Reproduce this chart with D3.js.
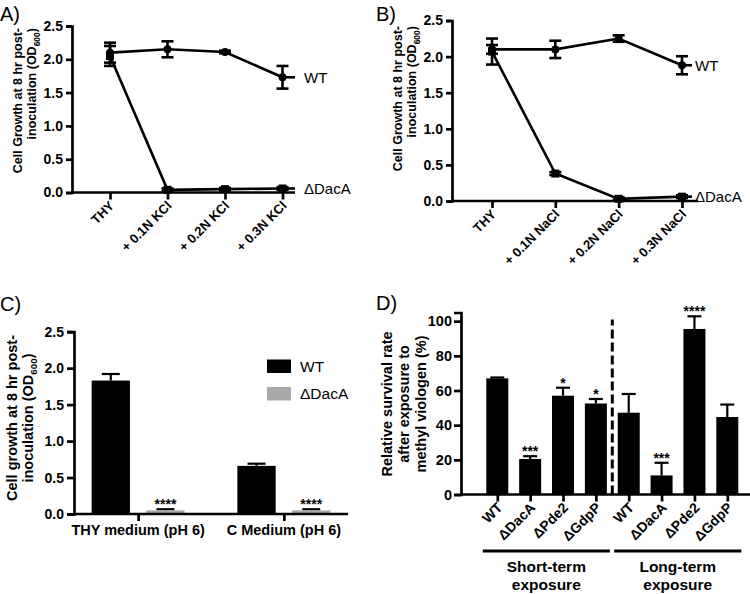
<!DOCTYPE html>
<html><head><meta charset="utf-8">
<script src="https://cdn.jsdelivr.net/npm/d3@7"></script>
<style>
body{margin:0;background:#fff}
svg{display:block}
text{font-family:"Liberation Sans",Arial,Helvetica,sans-serif;fill:#000}
</style>
</head><body>
<svg id="c" width="750" height="594"></svg>
<script>
// ---------- DATA ----------
// Panel A (KCl)
const catsA = ["THY", "+ 0.1N KCl", "+ 0.2N KCl", "+ 0.3N KCl"];
const wtA = [2.10, 2.15, 2.11, 1.73];
const wtAErr = [0.15, 0.12, 0.02, 0.17];
const dacaA = [2.05, 0.04, 0.05, 0.06];
const dacaAErr = [0.15, 0.02, 0.02, 0.02];
// Panel B (NaCl)
const catsB = ["THY", "+ 0.1N NaCl", "+ 0.2N NaCl", "+ 0.3N NaCl"];
const wtB = [2.10, 2.10, 2.25, 1.88];
const wtBErr = [0.06, 0.12, 0.045, 0.125];
const dacaB = [2.07, 0.38, 0.03, 0.06];
const dacaBErr = [0.18, 0.02, 0.02, 0.02];
const lineYTicks = [0, 0.5, 1.0, 1.5, 2.0, 2.5];
// Panel C (pH 6)
const groupsC = ["THY medium (pH 6)", "C Medium (pH 6)"];
const seriesC = ["WT", "ΔDacA"];
const wtC = [1.83, 0.66];
const wtCErr = [0.09, 0.03];
const dacaC = [0.05, 0.05];
const dacaCErr = [0.015, 0.015];
const sigC = ["****", "****"];
// Panel D (methyl viologen)
const strainsD = ["WT", "ΔDacA", "ΔPde2", "ΔGdpP"];
const exposuresD = ["Short-term", "Long-term"];
const shortD = [67.0, 20.5, 57.0, 52.5];
const shortDErr = [0.5, 1.6, 4.6, 2.6];
const sigShortD = ["", "***", "*", "*"];
const longD = [47.2, 11.0, 95.5, 44.7];
const longDErr = [10.8, 7.3, 7.3, 7.2];
const sigLongD = ["", "***", "****", ""];
const dYTicks = [0, 20, 40, 60, 80, 100];

// ---------- DRAW ----------
const svg = d3.select("#c");
const AX = 2.7; // axis stroke width

function styleAxis(sel, fs) {
  sel.selectAll("path.domain").attr("stroke", "#000").attr("stroke-width", AX);
  sel.selectAll(".tick line").attr("stroke", "#000").attr("stroke-width", AX);
  sel.selectAll(".tick text").attr("font-size", fs).attr("font-weight", "bold")
     .attr("font-family", '"Liberation Sans",Arial,sans-serif').attr("fill", "#000");
}

function yTitle(g, lines, cx, cy, fs, gap, anchor) {
  const t = g.append("text")
    .attr("transform", `translate(${cx},${cy}) rotate(-90)`)
    .attr("text-anchor", anchor || "middle")
    .attr("font-size", fs).attr("font-weight", "bold");
  lines.forEach((ln, i) => {
    const ts = t.append("tspan").attr("x", 0).attr("y", i * gap);
    if (ln.indexOf("OD600") >= 0) {
      ts.text(ln.replace("OD600)", "OD"));
      t.append("tspan").attr("font-size", fs * 0.68).attr("dy", fs * 0.3).text("600");
      t.append("tspan").attr("dy", -fs * 0.3).text(")");
    } else ts.text(ln);
  });
}

function panelLabel(txt, x, y) {
  svg.append("text").attr("x", x).attr("y", y).attr("font-size", 20)
    .attr("font-family", '"Open Sans","Liberation Sans",sans-serif').text(txt);
}

function linePanel(c) {
  const g = svg.append("g");
  const x = d3.scalePoint().domain(c.cats).range(c.xRange);
  const y = d3.scaleLinear().domain([0, 2.5]).range(c.yRange);
  const ya = g.append("g").attr("transform", `translate(${c.axisX},0)`)
    .call(d3.axisLeft(y).tickValues(lineYTicks).tickFormat(d3.format(".1f")).tickSize(6).tickPadding(3));
  styleAxis(ya, 14);
  const xa = g.append("g").attr("transform", `translate(0,${y(0)})`)
    .call(d3.axisBottom(x).tickSize(7).tickFormat(""));
  xa.select(".domain").remove();
  styleAxis(xa, 14);
  g.append("line").attr("x1", c.axisX - 1).attr("x2", c.axisEnd)
    .attr("y1", y(0)).attr("y2", y(0)).attr("stroke", "#000").attr("stroke-width", AX);
  // rotated category labels
  g.selectAll("text.cat").data(c.cats).join("text").attr("class", "cat")
    .attr("transform", d => `translate(${x(d) + 5},${y(0) + 14}) rotate(-45)`)
    .attr("text-anchor", "end").attr("font-size", 13).attr("font-weight", "bold").text(d => d);
  // series
  c.series.forEach(s => {
    const pts = c.cats.map((k, i) => ({ k, v: s.vals[i], e: s.errs[i] }));
    g.append("path").datum(pts)
      .attr("d", d3.line().x(d => x(d.k)).y(d => y(d.v)))
      .attr("fill", "none").attr("stroke", "#000").attr("stroke-width", 2.6);
    const last = pts[pts.length - 1];
    g.append("line").attr("x1", x(last.k)).attr("x2", c.labelLineEnd)
      .attr("y1", y(last.v)).attr("y2", y(last.v)).attr("stroke", "#000").attr("stroke-width", 2.6);
    g.append("text").attr("x", c.labelX).attr("y", y(last.v) + 5.5).attr("font-size", 15).text(s.name);
    pts.forEach(d => {
      const cw = 6;
      g.append("line").attr("x1", x(d.k)).attr("x2", x(d.k)).attr("y1", y(d.v - d.e)).attr("y2", y(d.v + d.e))
        .attr("stroke", "#000").attr("stroke-width", 2.6);
      [d.v - d.e, d.v + d.e].forEach(v => g.append("line").attr("x1", x(d.k) - cw).attr("x2", x(d.k) + cw)
        .attr("y1", y(v)).attr("y2", y(v)).attr("stroke", "#000").attr("stroke-width", 2.6));
    });
    if (s.marker === "circle") {
      g.selectAll(null).data(pts).join("circle").attr("cx", d => x(d.k)).attr("cy", d => y(d.v)).attr("r", 4);
    } else {
      g.selectAll(null).data(pts).join("rect").attr("x", d => x(d.k) - 4).attr("y", d => y(d.v) - 4)
        .attr("width", 8).attr("height", 8);
    }
  });
  yTitle(g, c.title, c.titleX, c.titleY, 12.5, 14, c.titleAnchor);
}

// Panel A
linePanel({
  cats: catsA, xRange: [110, 282.5], yRange: [192.5, 26], axisX: 72, axisEnd: 295,
  labelLineEnd: 295, labelX: 304,
  series: [
    { name: "ΔDacA", vals: dacaA, errs: dacaAErr, marker: "square" },
    { name: "WT", vals: wtA, errs: wtAErr, marker: "circle" }
  ],
  title: ["Cell Growth at 8 hr post-", "inoculation (OD600)"], titleX: 22, titleY: 28, titleAnchor: "end"
});
// Panel B
linePanel({
  cats: catsB, xRange: [492, 682], yRange: [201, 20.5], axisX: 452, axisEnd: 698,
  labelLineEnd: 692, labelX: 695,
  series: [
    { name: "ΔDacA", vals: dacaB, errs: dacaBErr, marker: "square" },
    { name: "WT", vals: wtB, errs: wtBErr, marker: "circle" }
  ],
  title: ["Cell Growth at 8 hr post-", "inoculation (OD600)"], titleX: 402, titleY: 26, titleAnchor: "end"
});

// Panel C
(function () {
  const g = svg.append("g");
  const y = d3.scaleLinear().domain([0, 2.5]).range([514, 331.7]);
  const x0 = d3.scalePoint().domain(groupsC).range([74, 348]).padding(0.44);
  const x1 = d3.scaleBand().domain(seriesC).range([-46.5, 46.5]).paddingInner(0.3);
  const color = d3.scaleOrdinal().domain(seriesC).range(["#000000", "#a8a8a8"]);
  const rows = [];
  groupsC.forEach((gr, i) => {
    rows.push({ g: gr, s: "WT", v: wtC[i], e: wtCErr[i], sig: "" });
    rows.push({ g: gr, s: "ΔDacA", v: dacaC[i], e: dacaCErr[i], sig: sigC[i] });
  });
  rows.forEach(d => {
    const cx = x0(d.g) + x1(d.s) + x1.bandwidth() / 2;
    g.append("line").attr("x1", cx).attr("x2", cx).attr("y1", y(d.v)).attr("y2", y(d.v + d.e))
      .attr("stroke", "#000").attr("stroke-width", 2.2);
    g.append("line").attr("x1", cx - 9).attr("x2", cx + 9).attr("y1", y(d.v + d.e)).attr("y2", y(d.v + d.e))
      .attr("stroke", "#000").attr("stroke-width", 2.2);
    g.append("rect").attr("x", x0(d.g) + x1(d.s)).attr("width", x1.bandwidth())
      .attr("y", y(d.v)).attr("height", y(0) - y(d.v)).attr("fill", color(d.s));
    if (d.sig) g.append("text").attr("x", cx).attr("y", y(d.v + d.e) + 0).attr("text-anchor", "middle")
      .attr("font-size", 14).attr("font-weight", "bold").text(d.sig);
  });
  const ya = g.append("g").attr("transform", "translate(74,0)")
    .call(d3.axisLeft(y).tickValues(lineYTicks).tickFormat(d3.format(".1f")).tickSize(7).tickPadding(3));
  styleAxis(ya, 14);
  const xa = g.append("g").attr("transform", `translate(0,${y(0)})`)
    .call(d3.axisBottom(x0).tickSize(7).tickFormat(""));
  xa.select(".domain").remove();
  styleAxis(xa, 14);
  g.append("line").attr("x1", 73).attr("x2", 348).attr("y1", y(0)).attr("y2", y(0))
    .attr("stroke", "#000").attr("stroke-width", AX);
  g.selectAll("text.grp").data(groupsC).join("text").attr("class", "grp")
    .attr("x", d => x0(d)).attr("y", 535).attr("text-anchor", "middle")
    .attr("font-size", 14.5).attr("font-weight", "bold").text(d => d);
  // legend
  seriesC.forEach((s, i) => {
    g.append("rect").attr("x", 267).attr("y", 359.5 + i * 27.5).attr("width", 24).attr("height", 13.5).attr("fill", color(s));
    g.append("text").attr("x", 300).attr("y", 366 + i * 27.5 + 5.5).attr("font-size", 15.5).text(s);
  });
  yTitle(g, ["Cell growth at 8 hr post-", "inoculation (OD600)"], 17, 418, 14.5, 16);
})();

// Panel D
(function () {
  const g = svg.append("g");
  const y = d3.scaleLinear().domain([0, 105]).range([494.5, 312.5]);
  const rows = [];
  exposuresD.forEach((ex, j) => strainsD.forEach((s, i) => {
    const vals = j === 0 ? shortD : longD, errs = j === 0 ? shortDErr : longDErr, sig = j === 0 ? sigShortD : sigLongD;
    rows.push({ key: j + "-" + s, s, ex, v: vals[i], e: errs[i], sig: sig[i] });
  }));
  const x = d3.scalePoint().domain(rows.map(d => d.key)).range([497.3, 727.3]);
  const bw = 22;
  rows.forEach(d => {
    const cx = x(d.key);
    g.append("line").attr("x1", cx).attr("x2", cx).attr("y1", y(d.v)).attr("y2", y(d.v + d.e))
      .attr("stroke", "#000").attr("stroke-width", 2.2);
    g.append("line").attr("x1", cx - 7).attr("x2", cx + 7).attr("y1", y(d.v + d.e)).attr("y2", y(d.v + d.e))
      .attr("stroke", "#000").attr("stroke-width", 2.2);
    g.append("rect").attr("x", cx - bw / 2).attr("width", bw).attr("y", y(d.v))
      .attr("height", y(0) - y(d.v)).attr("fill", "#000");
    if (d.sig) g.append("text").attr("x", cx).attr("y", y(d.v + d.e) + 0).attr("text-anchor", "middle")
      .attr("font-size", 14).attr("font-weight", "bold").text(d.sig);
  });
  // dashed separator
  const sepX = (x(rows[3].key) + x(rows[4].key)) / 2;
  g.append("line").attr("x1", sepX).attr("x2", sepX).attr("y1", y(0)).attr("y2", y(101))
    .attr("stroke", "#000").attr("stroke-width", 3).attr("stroke-dasharray", "9,4");
  const ya = g.append("g").attr("transform", "translate(461,0)")
    .call(d3.axisLeft(y).tickValues(dYTicks).tickFormat(d3.format("d")).tickSize(7).tickPadding(2));
  styleAxis(ya, 14.5);
  const xa = g.append("g").attr("transform", `translate(0,${y(0)})`)
    .call(d3.axisBottom(x).tickSize(7).tickFormat(""));
  xa.select(".domain").remove();
  styleAxis(xa, 14);
  g.append("line").attr("x1", 460).attr("x2", 750).attr("y1", y(0)).attr("y2", y(0))
    .attr("stroke", "#000").attr("stroke-width", AX);
  g.selectAll("text.cat").data(rows).join("text").attr("class", "cat")
    .attr("transform", d => `translate(${x(d.key) + 6},${y(0) + 14}) rotate(-45)`)
    .attr("text-anchor", "end").attr("font-size", 14).attr("font-weight", "bold").text(d => d.s);
  // group brackets
  exposuresD.forEach((ex, j) => {
    const ks = rows.filter(r => r.ex === ex).map(r => x(r.key));
    const x1 = d3.min(ks) - 14.5, x2 = d3.max(ks) + 14;
    g.append("line").attr("x1", x1).attr("x2", x2).attr("y1", 551).attr("y2", 551)
      .attr("stroke", "#000").attr("stroke-width", 3);
    const t = g.append("text").attr("text-anchor", "middle").attr("font-size", 15.5).attr("font-weight", "bold");
    t.append("tspan").attr("x", (x1 + x2) / 2).attr("y", 572).text(ex);
    t.append("tspan").attr("x", (x1 + x2) / 2).attr("y", 590).text("exposure");
  });
  yTitle(g, ["Relative survival rate", "after exposure to", "methyl viologen (%)"], 392, 404, 14.5, 17);
})();

panelLabel("A)", 0, 21);
panelLabel("B)", 376, 21);
panelLabel("C)", 0, 311);
panelLabel("D)", 376, 310);
</script>
</body></html>
